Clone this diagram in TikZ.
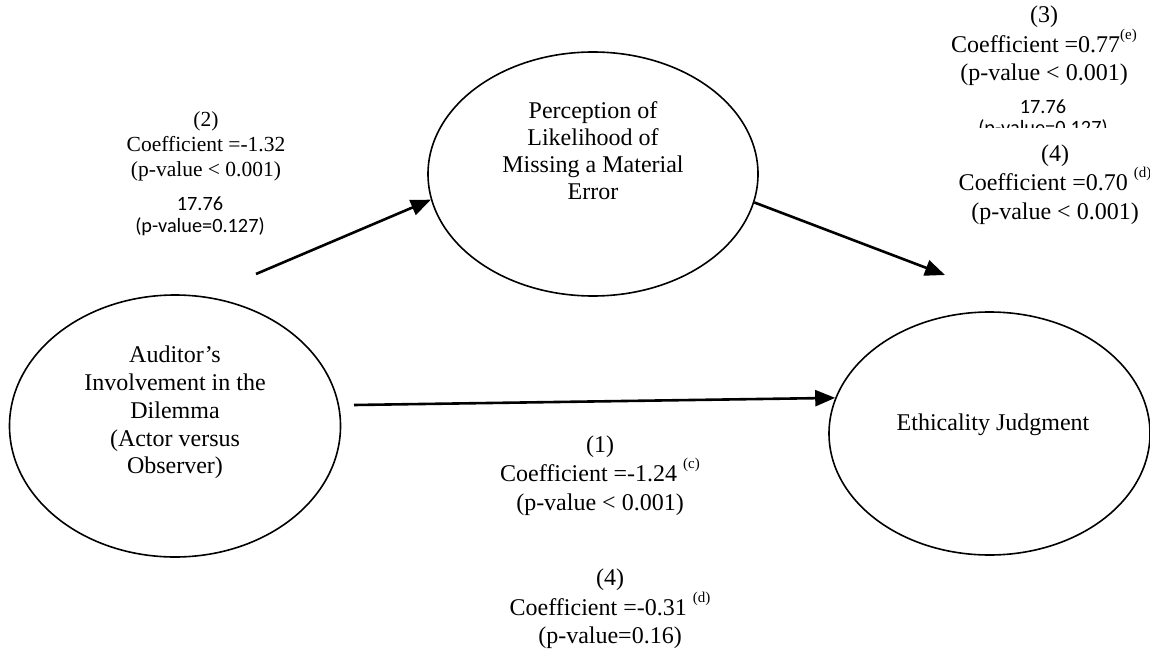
\documentclass[tikz,border=0pt]{standalone}
\usepackage{fontspec}
\setmainfont{Liberation Serif}
\newfontfamily\calib{Carlito}
\usetikzlibrary{arrows.meta,shapes.geometric}
\newcommand\supr[1]{\raisebox{0.55em}{\fontsize{15}{15}\selectfont #1}}
\begin{document}
\begin{tikzpicture}[x=1pt,y=-1pt,
  oval/.style={draw, ellipse, line width=1.6pt, inner sep=0pt},
  arr/.style={line width=2.6pt, -{Triangle[length=20pt,width=16pt]}},
  serif/.style={align=center, inner sep=0pt, font=\fontsize{24}{27.5}\selectfont},
  sans/.style={align=center, inner sep=0pt, font=\calib\fontsize{20.3}{22}\selectfont}]
\useasboundingbox (0,0) rectangle (1150,650);
\fill[white] (0,0) rectangle (1150,650);

% ellipses
\node[oval, minimum width=331pt, minimum height=262pt] (left) at (175,426) {};
\node[oval, minimum width=330pt, minimum height=244pt] (mid) at (593,174) {};
\node[oval, minimum width=321pt, minimum height=243pt] (right) at (989.5,433.5) {};

% ellipse texts
\node[serif, font=\fontsize{24}{27.8}\selectfont] (lefttxt) at (175,412.5) {Auditor’s\\Involvement in the\\Dilemma\\(Actor versus\\Observer)};
\node[serif, font=\fontsize{24}{27}\selectfont] (midtxt) at (593,151) {Perception of\\Likelihood of\\Missing a Material\\Error};
\node[serif] (righttxt) at (993,425) {Ethicality Judgment};

% connectors
\coordinate (s2) at (256,274);
\coordinate (s1) at (354,405);
\coordinate (e3) at (945,275);
\draw[arr] (s2) -- (mid.189);
\draw[arr] (s1) -- (right.167);
\draw[arr] (mid.-10) -- (e3);

% labels
\node[serif, font=\fontsize{21.5}{25}\selectfont] (lab2) at (206,146) {(2)\\Coefficient =-1.32\\(p-value < 0.001)};
\node[sans] (lab2b) at (200,216) {17.76\\(p-value=0.127)};

\node[serif, font=\fontsize{24}{28}\selectfont] (lab3) at (1044,46) {(3)\\Coefficient =0.77\supr{(e)}\\(p-value < 0.001)};
\node[sans] (lab3b) at (1043,107) {17.76};
\begin{scope}
\clip (900,0) rectangle (1150,127);
\node[sans] (lab3c) at (1043,129) {(p-value=0.127)};
\end{scope}
\node[serif, font=\fontsize{24}{28.5}\selectfont] (lab4r) at (1055,184.5) {(4)\\Coefficient =0.70 \supr{(d)}\\ (p-value < 0.001)};

\node[serif, font=\fontsize{24}{28.5}\selectfont] (lab1) at (600,475.5) {(1)\\Coefficient =-1.24 \supr{(c)}\\ (p-value < 0.001)};
\node[serif, font=\fontsize{24}{28}\selectfont] (lab4b) at (610,609) {(4)\\Coefficient =-0.31 \supr{(d)}\\ (p-value=0.16)};
\end{tikzpicture}
\end{document}
